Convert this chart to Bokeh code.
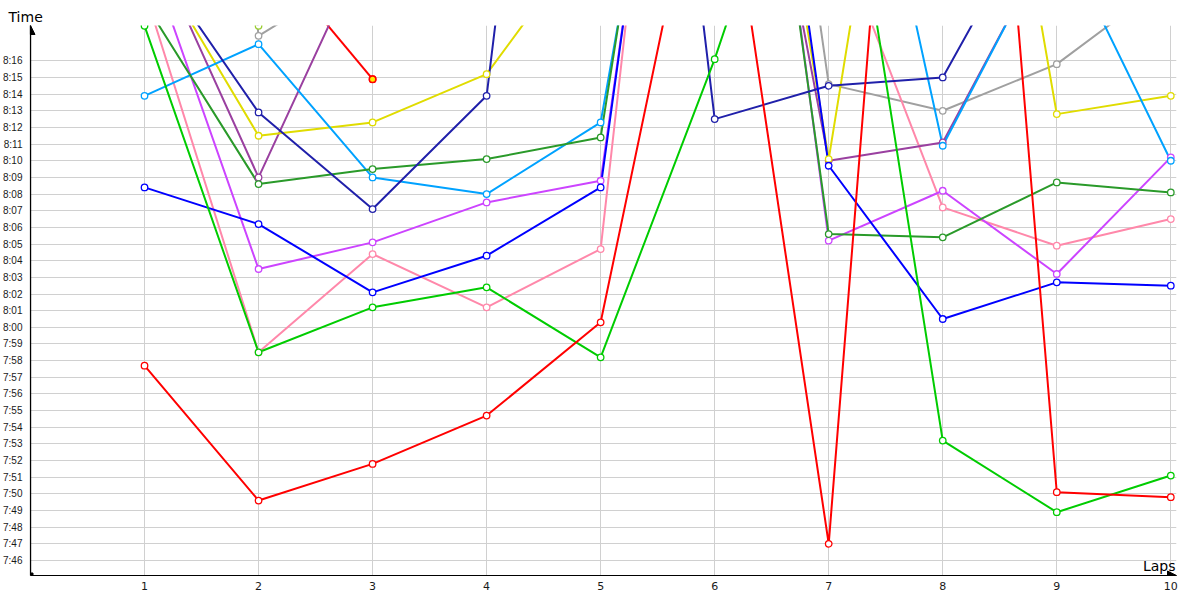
from bokeh.plotting import figure
from bokeh.models import Range1d, FixedTicker, Arrow, NormalHead, Label
from bokeh.embed import file_html
from bokeh.resources import INLINE

nan = float("nan")

# ---- data (lap times in seconds) ----
laps = [1, 2, 3, 4, 5, 6, 7, 8, 9, 10]
lap_labels = ["1", "2", "3", "4", "5", "6", "7", "8", "9", "10"]
time_labels = ["7:46", "7:47", "7:48", "7:49", "7:50", "7:51", "7:52", "7:53", "7:54",
               "7:55", "7:56", "7:57", "7:58", "7:59", "8:00", "8:01", "8:02", "8:03",
               "8:04", "8:05", "8:06", "8:07", "8:08", "8:09", "8:10", "8:11", "8:12",
               "8:13", "8:14", "8:15", "8:16"]

red        = [477.7, 469.6, 471.8, 474.7, 480.3, 513.0, 467.0, 553.0, 470.1, 469.8]
green      = [498.1, 478.5, 481.2, 482.4, 478.2, 496.1, 516.5, 473.2, 468.9, 471.1]
dark_green = [499.5, 488.6, 489.5, 490.1, 491.4, 535.0, 485.6, 485.4, 488.7, 488.1]
blue       = [488.4, 486.2, 482.1, 484.3, 488.4, 538.0, 489.7, 480.5, 482.7, 482.5]
navy       = [502.8, 492.9, 487.1, 493.9, 550.0, 492.5, 494.5, 495.0, 507.3, 508.0]
light_blue = [493.9, 497.0, 489.0, 488.0, 492.3, 531.0, 522.0, 490.9, 504.0, 490.0]
yellow     = [503.0, 491.5, 492.3, 495.2, 504.5, 532.0, 490.1, 532.4, 492.8, 493.9]
purple     = [504.1, 489.0, 503.8, 515.0, 520.0, 526.0, 490.0, 491.1, 503.9, 506.0]
magenta    = [503.0, 483.5, 485.1, 487.5, 488.8, 537.0, 485.2, 488.2, 483.2, 490.2]
pink       = [500.2, 478.5, 484.4, 481.2, 484.7, 546.0, 504.9, 487.2, 484.9, 486.5]
gray       = [560.0, 497.5, 501.7, 515.0, 530.0, 542.6, 494.6, 493.0, 495.8, 500.9]
red_b      = [nan, 503.1, 494.9, nan, nan, nan, nan, nan, nan, nan]
yellowgreen = [nan, 498.1, nan, nan, nan, nan, nan, nan, nan, nan]

series = [
    (gray, "#a0a0a0"),
    (yellowgreen, "#9acd32"),
    (red_b, "#ff0000"),
    (pink, "#ff88aa"),
    (magenta, "#cc44ff"),
    (purple, "#9a40a0"),
    (yellow, "#e0dc00"),
    (light_blue, "#00a2ff"),
    (dark_green, "#2a9a2a"),
    (navy, "#2020aa"),
    (blue, "#0000ff"),
    (green, "#00cc00"),
    (red, "#ff0000"),
]


def to_sec(s):
    m, ss = s.split(":")
    return int(m) * 60 + int(ss)


time_ticks = [to_sec(s) for s in time_labels]

Y0, Y1 = 465.1, 498.12
X0, X1 = 0, 10.05

p = figure(width=1196, height=596, output_backend="svg", toolbar_location=None,
           x_range=Range1d(X0, X1), y_range=Range1d(Y0, Y1),
           min_border_left=30, min_border_top=25, min_border_right=20,
           min_border_bottom=21)
p.outline_line_color = None
p.background_fill_color = "white"
p.border_fill_color = "white"

# title used as the vertical axis caption
p.title.text = "Time"
p.title.align = "left"
p.title.offset = -22
p.title.standoff = 2
p.title.text_font = "DejaVu Sans"
p.title.text_font_size = "14px"
p.title.text_font_style = "normal"
p.title.text_color = "black"

# axes
p.yaxis.ticker = FixedTicker(ticks=time_ticks)
p.yaxis.major_label_overrides = {t: l for t, l in zip(time_ticks, time_labels)}
p.xaxis.ticker = FixedTicker(ticks=laps)
p.xaxis.major_label_overrides = {v: l for v, l in zip(laps, lap_labels)}
for ax in (p.xaxis[0], p.yaxis[0]):
    ax.axis_line_color = "black"
    ax.axis_line_width = 1.2
    ax.major_tick_out = 0
    ax.major_tick_in = 0
    ax.minor_tick_out = 0
    ax.minor_tick_in = 0
    ax.major_label_text_color = "#1a1a1a"
p.yaxis.major_label_text_font = "Liberation Sans"
p.yaxis.major_label_text_font_size = "10px"
p.yaxis.major_label_text_baseline = "bottom"
p.yaxis.major_label_standoff = 8
p.xaxis.major_label_text_font = "DejaVu Sans"
p.xaxis.major_label_text_font_size = "11px"
p.xaxis.major_label_standoff = 6

p.xgrid.ticker = FixedTicker(ticks=laps)
p.ygrid.ticker = FixedTicker(ticks=time_ticks)
p.xgrid.grid_line_color = "#d0d0d0"
p.ygrid.grid_line_color = "#d0d0d0"
p.xgrid.grid_line_width = 1
p.ygrid.grid_line_width = 1

# series
for vals, col in series:
    p.line(laps, vals, line_color=col, line_width=2)
for vals, col in series:
    p.scatter(laps, vals, marker="circle", size=6.5, fill_color="white",
              line_color=col, line_width=1.3)

# highlighted last point of the short red series
hl_x = [laps[2]]
hl_y = [red_b[2]]
p.scatter(hl_x, hl_y, marker="circle", size=6.5, fill_color="#ffee00",
          line_color="#ff0000", line_width=1.5)

# axis arrows and origin
p.add_layout(Arrow(end=NormalHead(size=9, fill_color="black", line_color="black"),
                   x_start=X0, y_start=Y0, x_end=X0, y_end=Y1,
                   line_color="black", line_width=1.2))
p.add_layout(Arrow(end=NormalHead(size=9, fill_color="black", line_color="black"),
                   x_start=X0, y_start=Y0, x_end=X1, y_end=Y0,
                   line_color="black", line_width=1.2))
p.scatter([X0], [Y0], marker="square", size=5, color="black")

# horizontal axis caption
p.add_layout(Label(x=X1, y=Y0, x_offset=-1, y_offset=10, text="Laps",
                   text_font="DejaVu Sans", text_font_size="14px",
                   text_baseline="middle", text_align="right", text_color="black"))

open("out.html", "w").write(file_html(p, INLINE))
